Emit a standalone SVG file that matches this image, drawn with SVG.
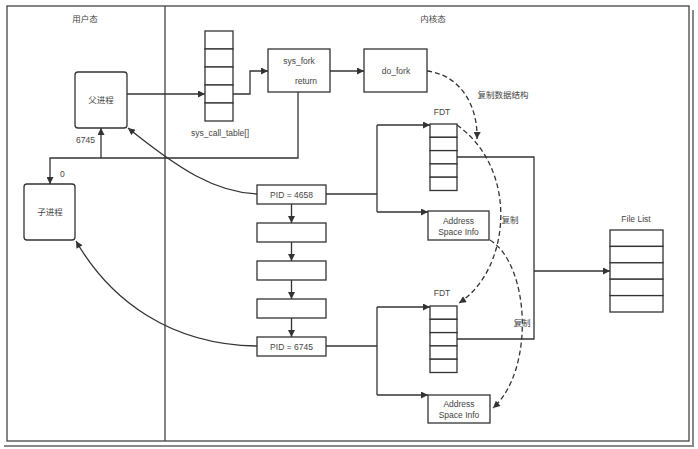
<svg xmlns="http://www.w3.org/2000/svg" width="698" height="449" viewBox="0 0 698 449">
<defs>
<marker id="ah" viewBox="0 0 10 10" refX="10" refY="5" markerWidth="9" markerHeight="7" markerUnits="userSpaceOnUse" orient="auto">
<path d="M0,0 L10,5 L0,10 z" fill="#333"/>
</marker>
</defs>
<style>
.box{fill:#fff;stroke:#333;stroke-width:1.3}
.ln{fill:none;stroke:#333;stroke-width:1.3}
.dash{fill:none;stroke:#333;stroke-width:1.3;stroke-dasharray:5,3}
.t{font-family:"Liberation Sans","Noto Sans CJK SC",sans-serif;font-size:8.5px;fill:#444;text-anchor:middle}
.ts{font-family:"Liberation Sans","Noto Sans CJK SC",sans-serif;font-size:8.5px;fill:#444}
</style>
<rect width="698" height="449" fill="#fff"/>
<g id="frame">
<path d="M693,10 V446 H4" fill="none" stroke="#888" stroke-width="2"/>
<rect x="7" y="6" width="682" height="435" fill="none" stroke="#444" stroke-width="1.3"/>
<line x1="165" y1="6" x2="165" y2="441" stroke="#444" stroke-width="1.3"/>
<text class="t" x="85" y="22">用户态</text>
<text class="t" x="433" y="22">内核态</text>
</g>
<g id="connectors">
<path class="ln" d="M127,94 H205" marker-end="url(#ah)"/>
<path class="ln" d="M233,94 H250 V71 H268" marker-end="url(#ah)"/>
<path class="ln" d="M330,71 H364" marker-end="url(#ah)"/>
<path class="ln" d="M298,92 V158 H50 V184" marker-end="url(#ah)"/>
<path class="ln" d="M101,158 V128" marker-end="url(#ah)"/>
<path class="ln" d="M257,194 C215,192 180,170 128,128" marker-end="url(#ah)"/>
<path class="ln" d="M257,346 C170,345 110,300 76,241" marker-end="url(#ah)"/>
<path class="ln" d="M291.5,204 V223" marker-end="url(#ah)"/>
<path class="ln" d="M291.5,242 V261" marker-end="url(#ah)"/>
<path class="ln" d="M291.5,280 V299" marker-end="url(#ah)"/>
<path class="ln" d="M291.5,318 V337" marker-end="url(#ah)"/>
<path class="ln" d="M326,194 H377"/>
<path class="ln" d="M377,125 H430" marker-end="url(#ah)"/>
<path class="ln" d="M377,212 H428" marker-end="url(#ah)"/>
<path class="ln" d="M377,125 V212"/>
<path class="ln" d="M326,346 H377"/>
<path class="ln" d="M377,307 H430" marker-end="url(#ah)"/>
<path class="ln" d="M377,395 H428" marker-end="url(#ah)"/>
<path class="ln" d="M377,307 V395"/>
<path class="ln" d="M457,157 H534 V339 H457"/>
<path class="ln" d="M534,271 H610" marker-end="url(#ah)"/>
<path class="dash" d="M427,71 C460,75 478,105 477,139" marker-end="url(#ah)"/>
<path class="dash" d="M457,125 C520,170 510,270 459,303" marker-end="url(#ah)"/>
<path class="dash" d="M490,240 C530,265 535,370 493,408" marker-end="url(#ah)"/>
<text class="ts" x="60" y="177">0</text>
<text class="ts" x="76" y="143">6745</text>
<text class="t" x="503" y="98">复制数据结构</text>
<text class="t" x="510" y="223">复制</text>
<text class="t" x="522" y="326">复制</text>
</g>
<g id="parent">
<rect class="box" x="75" y="72" width="52" height="56" rx="3"/>
<text class="t" x="101" y="103">父进程</text>
</g>
<g id="child">
<rect class="box" x="24" y="184" width="51" height="56" rx="3"/>
<text class="t" x="50" y="215">子进程</text>
</g>
<g id="sys_call_table">
<rect class="box" x="205" y="31" width="28" height="18"/>
<rect class="box" x="205" y="49" width="28" height="18"/>
<rect class="box" x="205" y="67" width="28" height="18"/>
<rect class="box" x="205" y="85" width="28" height="18"/>
<rect class="box" x="205" y="103" width="28" height="18"/>
<text class="t" x="220" y="136">sys_call_table[]</text>
</g>
<g id="sys_fork">
<rect class="box" x="268" y="49" width="62" height="43"/>
<text class="t" x="299" y="64">sys_fork</text>
<text class="t" x="306" y="84">return</text>
</g>
<g id="do_fork">
<rect class="box" x="364" y="49" width="63" height="43"/>
<text class="t" x="396" y="74">do_fork</text>
</g>
<g id="pid4658">
<rect class="box" x="257" y="185" width="69" height="19"/>
<text class="t" x="291.5" y="197.5">PID = 4658</text>
</g>
<g id="task2"><rect class="box" x="257" y="223" width="69" height="19"/></g>
<g id="task3"><rect class="box" x="257" y="261" width="69" height="19"/></g>
<g id="task4"><rect class="box" x="257" y="299" width="69" height="19"/></g>
<g id="pid6745">
<rect class="box" x="257" y="337" width="69" height="19"/>
<text class="t" x="291.5" y="349.5">PID = 6745</text>
</g>
<g id="fdt1">
<text class="t" x="442" y="115">FDT</text>
<rect class="box" x="430" y="124" width="27" height="13.3"/>
<rect class="box" x="430" y="137.3" width="27" height="13.3"/>
<rect class="box" x="430" y="150.6" width="27" height="13.3"/>
<rect class="box" x="430" y="163.9" width="27" height="13.3"/>
<rect class="box" x="430" y="177.2" width="27" height="13.3"/>
</g>
<g id="asi1">
<rect class="box" x="428" y="211" width="61" height="29"/>
<text class="t" x="458.5" y="224">Address</text>
<text class="t" x="458.5" y="235">Space Info</text>
</g>
<g id="fdt2">
<text class="t" x="442" y="296">FDT</text>
<rect class="box" x="430" y="306" width="27" height="13.3"/>
<rect class="box" x="430" y="319.3" width="27" height="13.3"/>
<rect class="box" x="430" y="332.6" width="27" height="13.3"/>
<rect class="box" x="430" y="345.9" width="27" height="13.3"/>
<rect class="box" x="430" y="359.2" width="27" height="13.3"/>
</g>
<g id="asi2">
<rect class="box" x="428" y="395" width="62" height="28"/>
<text class="t" x="459" y="407">Address</text>
<text class="t" x="459" y="418">Space Info</text>
</g>
<g id="filelist">
<text class="t" x="636" y="222">File List</text>
<rect class="box" x="610" y="230" width="53" height="16.4"/>
<rect class="box" x="610" y="246.4" width="53" height="16.4"/>
<rect class="box" x="610" y="262.8" width="53" height="16.4"/>
<rect class="box" x="610" y="279.2" width="53" height="16.4"/>
<rect class="box" x="610" y="295.6" width="53" height="16.4"/>
</g>
</svg>
